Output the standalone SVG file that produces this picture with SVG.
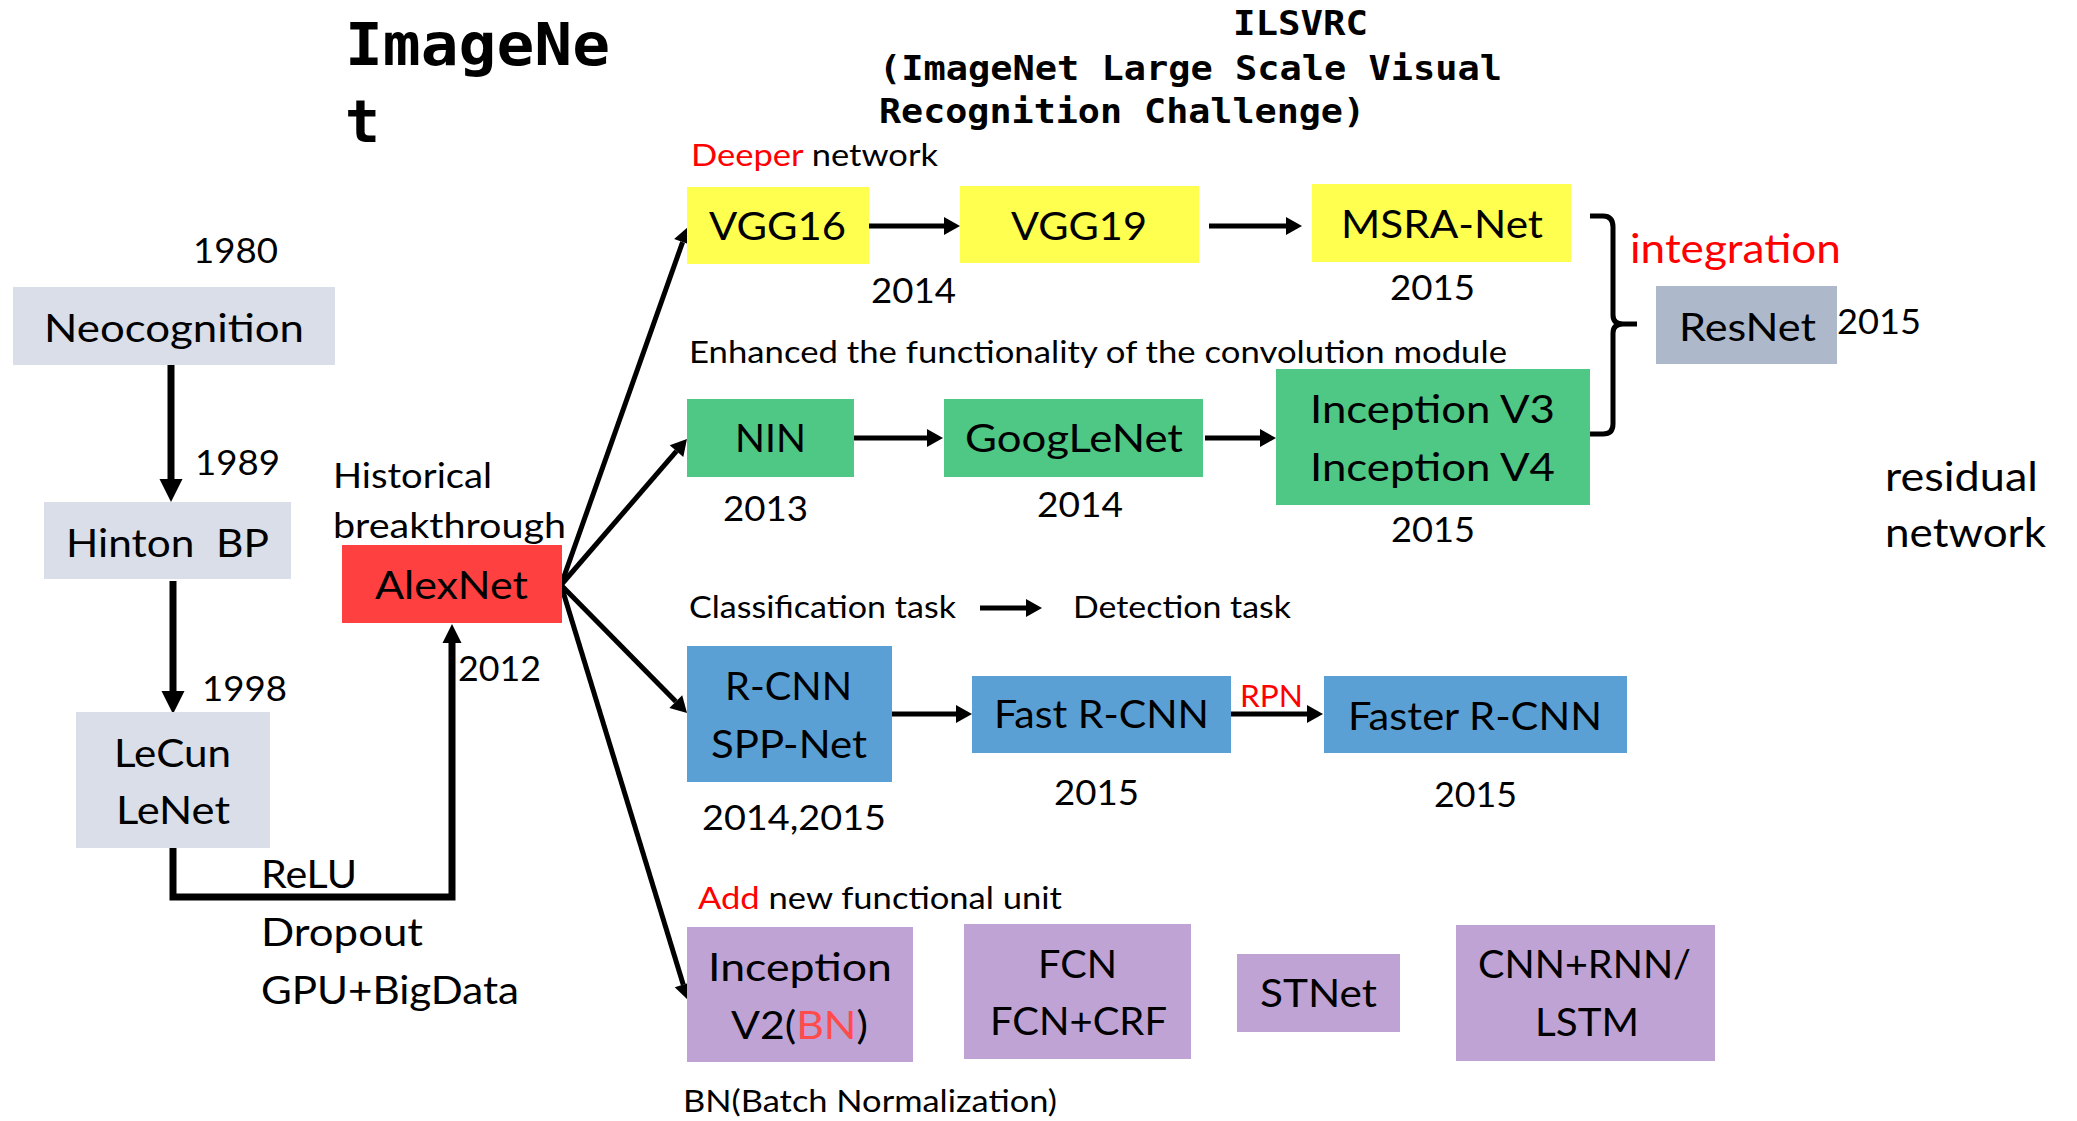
<svg xmlns="http://www.w3.org/2000/svg" width="2077" height="1121" viewBox="0 0 2077 1121">
<style>
text{font-family:Lato,'Liberation Sans',sans-serif;fill:#000}
.n{font-size:39px}
.y{font-size:35px}
.s{font-size:31px}
.m{font-family:'DejaVu Sans Mono','Liberation Mono',monospace;font-weight:bold}
.red{fill:#FF0000}
.gray{fill:#D9DEE8}
.alex{fill:#FF4040}
.yel{fill:#FFFF4F}
.grn{fill:#4FC785}
.blu{fill:#5BA0D5}
.pur{fill:#BFA3D5}
.res{fill:#ADB9CA}
.ln{stroke:#000;stroke-width:5;fill:none}
.lnb{stroke:#000;stroke-width:7;fill:none}
</style>
<defs>
<marker id="ah" markerUnits="userSpaceOnUse" markerWidth="17" markerHeight="18" refX="0" refY="9" orient="auto" overflow="visible">
<path d="M0,0 L16,9 L0,18 Z" fill="#000"/>
</marker>
<marker id="ahb" markerUnits="userSpaceOnUse" markerWidth="24" markerHeight="24" refX="0" refY="11.5" orient="auto" overflow="visible">
<path d="M0,0 L23,11.5 L0,23 Z" fill="#000"/>
</marker>
<marker id="ahm" markerUnits="userSpaceOnUse" markerWidth="20" markerHeight="20" refX="0" refY="9.5" orient="auto" overflow="visible">
<path d="M0,0 L19,9.5 L0,19 Z" fill="#000"/>
</marker>
</defs>
<rect width="2077" height="1121" fill="#fff"/>

<g id="title">
<text class="m" x="345" y="65" font-size="58" textLength="265" lengthAdjust="spacingAndGlyphs">ImageNe</text>
<text class="m" x="345" y="142" font-size="58" textLength="35" lengthAdjust="spacingAndGlyphs">t</text>
<text class="m" x="1233" y="35" font-size="33" textLength="135" lengthAdjust="spacingAndGlyphs">ILSVRC</text>
<text class="m" x="879" y="80" font-size="33" textLength="623" lengthAdjust="spacingAndGlyphs">(ImageNet Large Scale Visual</text>
<text class="m" x="879" y="123" font-size="33" textLength="486" lengthAdjust="spacingAndGlyphs">Recognition Challenge)</text>
</g>

<g id="connectors">
<line class="lnb" x1="171" y1="365" x2="171" y2="479" marker-end="url(#ahb)"/>
<line class="lnb" x1="173" y1="581" x2="173" y2="691" marker-end="url(#ahb)"/>
<path class="lnb" d="M173,848 L173,897 L452,897 L452,643" stroke-linejoin="miter" marker-end="url(#ahm)"/>
<line class="ln" x1="561" y1="585" x2="682.6" y2="242.1" marker-end="url(#ah)"/>
<line class="ln" x1="561" y1="585" x2="676.5" y2="451.1" marker-end="url(#ah)"/>
<line class="ln" x1="561" y1="585" x2="675.8" y2="701.6" marker-end="url(#ah)"/>
<line class="ln" x1="561" y1="585" x2="683.3" y2="984.7" marker-end="url(#ah)"/>
<line class="ln" x1="869" y1="226" x2="944" y2="226" marker-end="url(#ah)"/>
<line class="ln" x1="1209" y1="226" x2="1286" y2="226" marker-end="url(#ah)"/>
<line class="ln" x1="854" y1="438" x2="927" y2="438" marker-end="url(#ah)"/>
<line class="ln" x1="1205" y1="438" x2="1260" y2="438" marker-end="url(#ah)"/>
<line class="ln" x1="980" y1="608" x2="1026" y2="608" marker-end="url(#ah)"/>
<line class="ln" x1="892" y1="714" x2="956" y2="714" marker-end="url(#ah)"/>
<line class="ln" x1="1231" y1="714" x2="1307" y2="714" marker-end="url(#ah)"/>
<path class="ln" d="M1590,216 L1603,216 Q1613,216 1613,227 L1613,315 Q1613,324 1623,324 L1637,324 M1623,324 Q1613,324 1613,333 L1613,424 Q1613,434 1603,434 L1590,434"/>
</g>

<g id="neocognition">
<rect class="gray" x="13" y="287" width="322" height="78"/>
<text class="n" x="44" y="342" textLength="260" lengthAdjust="spacingAndGlyphs">Neocognition</text>
</g>
<g id="hinton">
<rect class="gray" x="44" y="502" width="247" height="77"/>
<text class="n" x="66" y="557" textLength="203" lengthAdjust="spacingAndGlyphs" style="white-space:pre">Hinton  BP</text>
</g>
<g id="lecun">
<rect class="gray" x="76" y="712" width="194" height="136"/>
<text class="n" x="114" y="767" textLength="117" lengthAdjust="spacingAndGlyphs">LeCun</text>
<text class="n" x="116" y="824" textLength="114" lengthAdjust="spacingAndGlyphs">LeNet</text>
</g>
<g id="alexnet">
<rect class="alex" x="342" y="545" width="220" height="78"/>
<text class="n" x="375" y="599" textLength="153" lengthAdjust="spacingAndGlyphs">AlexNet</text>
</g>
<g id="vgg16">
<rect class="yel" x="687" y="187" width="182" height="77"/>
<text class="n" x="709" y="240" textLength="137" lengthAdjust="spacingAndGlyphs">VGG16</text>
</g>
<g id="vgg19">
<rect class="yel" x="960" y="186" width="239" height="77"/>
<text class="n" x="1011" y="240" textLength="136" lengthAdjust="spacingAndGlyphs">VGG19</text>
</g>
<g id="msra">
<rect class="yel" x="1312" y="184" width="259" height="78"/>
<text class="n" x="1341" y="238" textLength="202" lengthAdjust="spacingAndGlyphs">MSRA-Net</text>
</g>
<g id="resnet">
<rect class="res" x="1656" y="286" width="181" height="78"/>
<text class="n" x="1679" y="341" textLength="137" lengthAdjust="spacingAndGlyphs">ResNet</text>
</g>
<g id="nin">
<rect class="grn" x="687" y="399" width="167" height="78"/>
<text class="n" x="735" y="452" textLength="71" lengthAdjust="spacingAndGlyphs">NIN</text>
</g>
<g id="googlenet">
<rect class="grn" x="944" y="399" width="259" height="78"/>
<text class="n" x="965" y="452" textLength="218" lengthAdjust="spacingAndGlyphs">GoogLeNet</text>
</g>
<g id="inception-v3v4">
<rect class="grn" x="1276" y="369" width="314" height="136"/>
<text class="n" x="1310" y="423" textLength="245" lengthAdjust="spacingAndGlyphs">Inception V3</text>
<text class="n" x="1310" y="481" textLength="245" lengthAdjust="spacingAndGlyphs">Inception V4</text>
</g>
<g id="rcnn">
<rect class="blu" x="687" y="646" width="205" height="136"/>
<text class="n" x="725" y="700" textLength="127" lengthAdjust="spacingAndGlyphs">R-CNN</text>
<text class="n" x="711" y="758" textLength="156" lengthAdjust="spacingAndGlyphs">SPP-Net</text>
</g>
<g id="fast-rcnn">
<rect class="blu" x="972" y="676" width="259" height="77"/>
<text class="n" x="994" y="728" textLength="215" lengthAdjust="spacingAndGlyphs">Fast R-CNN</text>
</g>
<g id="faster-rcnn">
<rect class="blu" x="1324" y="676" width="303" height="77"/>
<text class="n" x="1348" y="730" textLength="254" lengthAdjust="spacingAndGlyphs">Faster R-CNN</text>
</g>
<g id="inception-v2">
<rect class="pur" x="687" y="927" width="226" height="135"/>
<text class="n" x="708" y="981" textLength="184" lengthAdjust="spacingAndGlyphs">Inception</text>
<text class="n" x="731" y="1039" textLength="137" lengthAdjust="spacingAndGlyphs">V2(<tspan fill="#FF4B4B">BN</tspan>)</text>
</g>
<g id="fcn">
<rect class="pur" x="964" y="924" width="227" height="135"/>
<text class="n" x="1038" y="978" textLength="79" lengthAdjust="spacingAndGlyphs">FCN</text>
<text class="n" x="990" y="1035" textLength="177" lengthAdjust="spacingAndGlyphs">FCN+CRF</text>
</g>
<g id="stnet">
<rect class="pur" x="1237" y="954" width="163" height="78"/>
<text class="n" x="1260" y="1007" textLength="117" lengthAdjust="spacingAndGlyphs">STNet</text>
</g>
<g id="cnn-rnn">
<rect class="pur" x="1456" y="925" width="259" height="136"/>
<text class="n" x="1478" y="978" textLength="213" lengthAdjust="spacingAndGlyphs">CNN+RNN/</text>
<text class="n" x="1535" y="1036" textLength="104" lengthAdjust="spacingAndGlyphs">LSTM</text>
</g>

<g id="labels">
<text class="y" x="193" y="263" textLength="85" lengthAdjust="spacingAndGlyphs">1980</text>
<text class="y" x="195" y="475" textLength="85" lengthAdjust="spacingAndGlyphs">1989</text>
<text class="y" x="202" y="701" textLength="85" lengthAdjust="spacingAndGlyphs">1998</text>
<text class="y" x="458" y="681" textLength="83" lengthAdjust="spacingAndGlyphs">2012</text>
<text class="y" x="871" y="303" textLength="85" lengthAdjust="spacingAndGlyphs">2014</text>
<text class="y" x="1390" y="300" textLength="85" lengthAdjust="spacingAndGlyphs">2015</text>
<text class="y" x="1837" y="334" textLength="84" lengthAdjust="spacingAndGlyphs">2015</text>
<text class="y" x="723" y="521" textLength="85" lengthAdjust="spacingAndGlyphs">2013</text>
<text class="y" x="1037" y="517" textLength="86" lengthAdjust="spacingAndGlyphs">2014</text>
<text class="y" x="1391" y="542" textLength="84" lengthAdjust="spacingAndGlyphs">2015</text>
<text class="y" x="702" y="830" textLength="184" lengthAdjust="spacingAndGlyphs">2014,2015</text>
<text class="y" x="1054" y="805" textLength="85" lengthAdjust="spacingAndGlyphs">2015</text>
<text class="y" x="1434" y="807" textLength="83" lengthAdjust="spacingAndGlyphs">2015</text>
<text class="y" x="333" y="488" font-size="36" textLength="159" lengthAdjust="spacingAndGlyphs">Historical</text>
<text class="y" x="333" y="538" font-size="36" textLength="233" lengthAdjust="spacingAndGlyphs">breakthrough</text>
<text class="n" x="261" y="888" textLength="96" lengthAdjust="spacingAndGlyphs">ReLU</text>
<text class="n" x="261" y="946" textLength="162" lengthAdjust="spacingAndGlyphs">Dropout</text>
<text class="n" x="261" y="1004" textLength="258" lengthAdjust="spacingAndGlyphs">GPU+BigData</text>
<text class="s" x="691" y="166" textLength="247" lengthAdjust="spacingAndGlyphs"><tspan class="red">Deeper</tspan> network</text>
<text class="s" x="689" y="363" textLength="818" lengthAdjust="spacingAndGlyphs">Enhanced the functionality of the convolution module</text>
<text class="s" x="689" y="618" textLength="267" lengthAdjust="spacingAndGlyphs">Classification task</text>
<text class="s" x="1073" y="618" textLength="218" lengthAdjust="spacingAndGlyphs">Detection task</text>
<text class="s" x="698" y="909" textLength="364" lengthAdjust="spacingAndGlyphs"><tspan class="red">Add</tspan> new functional unit</text>
<text class="s" x="683" y="1112" textLength="374" lengthAdjust="spacingAndGlyphs">BN(Batch Normalization)</text>
<text class="red" x="1630" y="263" font-size="41" textLength="211" lengthAdjust="spacingAndGlyphs">integration</text>
<text class="red" x="1240" y="707" font-size="30" textLength="63" lengthAdjust="spacingAndGlyphs">RPN</text>
<text x="1885" y="491" font-size="41" textLength="153" lengthAdjust="spacingAndGlyphs">residual</text>
<text x="1885" y="547" font-size="41" textLength="161" lengthAdjust="spacingAndGlyphs">network</text>
</g>
</svg>
